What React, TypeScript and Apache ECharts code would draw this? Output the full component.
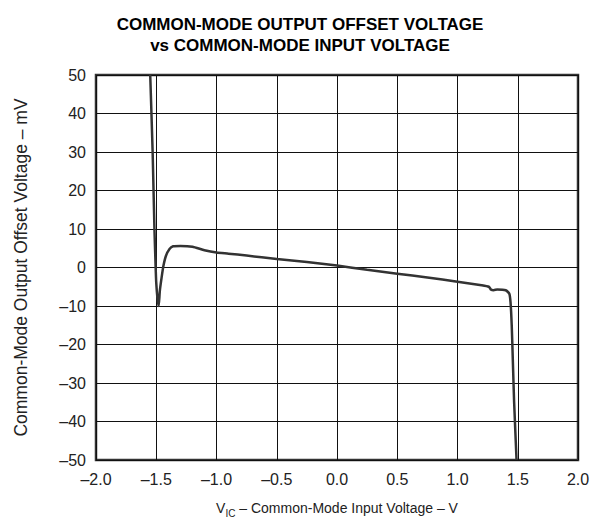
import React, { useEffect, useRef } from "react";
import * as echarts from "echarts";

const xTicks = [-2.0, -1.5, -1.0, -0.5, 0.0, 0.5, 1.0, 1.5, 2.0];
const yTicks = [-50, -40, -30, -20, -10, 0, 10, 20, 30, 40, 50];
const vic = [
  -1.55, -1.53, -1.515, -1.505, -1.5, -1.49, -1.48, -1.47, -1.455, -1.44, -1.42, -1.39, -1.36, -1.3, -1.2, -1.1,
  -1.0, -0.9, -0.75, -0.5, -0.25, 0, 0.25, 0.5, 0.75, 1.0, 1.2, 1.26, 1.28, 1.3, 1.33, 1.4, 1.43, 1.44, 1.45,
  1.46, 1.47, 1.49,
];
const offset = [
  50, 30, 10, 0, -4, -8, -10, -6, -2.5, 0.5, 3, 4.8, 5.5, 5.6, 5.4, 4.5, 3.9, 3.6, 3.1, 2.2, 1.4, 0.5, -0.6,
  -1.6, -2.6, -3.7, -4.6, -5.0, -5.8, -5.9, -5.7, -5.9, -6.8, -9, -15, -25, -35, -50,
];

const FONT = "'Liberation Sans', Arial, sans-serif";
const dash = (v: number, d: number) => (v < 0 ? "\u2013" + Math.abs(v).toFixed(d) : v.toFixed(d));

export default function App() {
  const ref = useRef<HTMLDivElement>(null);
  useEffect(() => {
    if (!ref.current) return;
    const chart = echarts.init(ref.current, null, { renderer: "svg" });
    chart.setOption({
      animation: false,
      backgroundColor: "#fff",
      title: {
        text: "COMMON-MODE OUTPUT OFFSET VOLTAGE\nvs COMMON-MODE INPUT VOLTAGE",
        left: "center",
        top: 1,
        textStyle: { fontFamily: FONT, fontSize: 17, fontWeight: "bold", color: "#000", lineHeight: 21 },
      },
      grid: {
        left: 88,
        top: 67,
        width: 482,
        height: 385,
        show: true,
        borderColor: "#333",
        borderWidth: 2.5,
        backgroundColor: "transparent",
        outerBoundsMode: "none",
        containLabel: false,
      },
      xAxis: {
        type: "value",
        min: -2,
        max: 2,
        interval: 0.5,
        axisLine: { show: false },
        axisTick: { show: false },
        splitLine: { show: true, lineStyle: { color: "#111", width: 1 } },
        axisLabel: {
          fontFamily: FONT,
          fontSize: 16,
          color: "#222",
          margin: 11,
          formatter: (v: number) => dash(v, 1),
        },
        name: "{a|V}{sub|IC}{a| \u2013 Common-Mode Input Voltage \u2013 V}",
        nameLocation: "middle",
        nameGap: 38,
        nameTextStyle: {
          rich: {
            a: { fontFamily: FONT, fontSize: 14, color: "#222" },
            sub: { fontFamily: FONT, fontSize: 10, color: "#222", padding: [10, 0, 0, 0] },
          },
        },
      },
      yAxis: {
        type: "value",
        min: -50,
        max: 50,
        interval: 10,
        axisLine: { show: false },
        axisTick: { show: false },
        splitLine: { show: true, lineStyle: { color: "#111", width: 1 } },
        axisLabel: {
          fontFamily: FONT,
          fontSize: 16,
          color: "#222",
          margin: 10,
          formatter: (v: number) => dash(v, 0),
        },
        name: "Common-Mode Output Offset Voltage \u2013 mV",
        nameLocation: "middle",
        nameGap: 66,
        nameTextStyle: { fontFamily: FONT, fontSize: 17.5, color: "#222" },
      },
      series: [
        {
          type: "line",
          data: vic.map((x, i) => [x, offset[i]]),
          showSymbol: false,
          smooth: 0.2,
          clip: true,
          lineStyle: { color: "#333", width: 2.5 },
        },
      ],
    });
    return () => chart.dispose();
  }, []);
  return <div ref={ref} style={{ width: 584, height: 515 }} />;
}
